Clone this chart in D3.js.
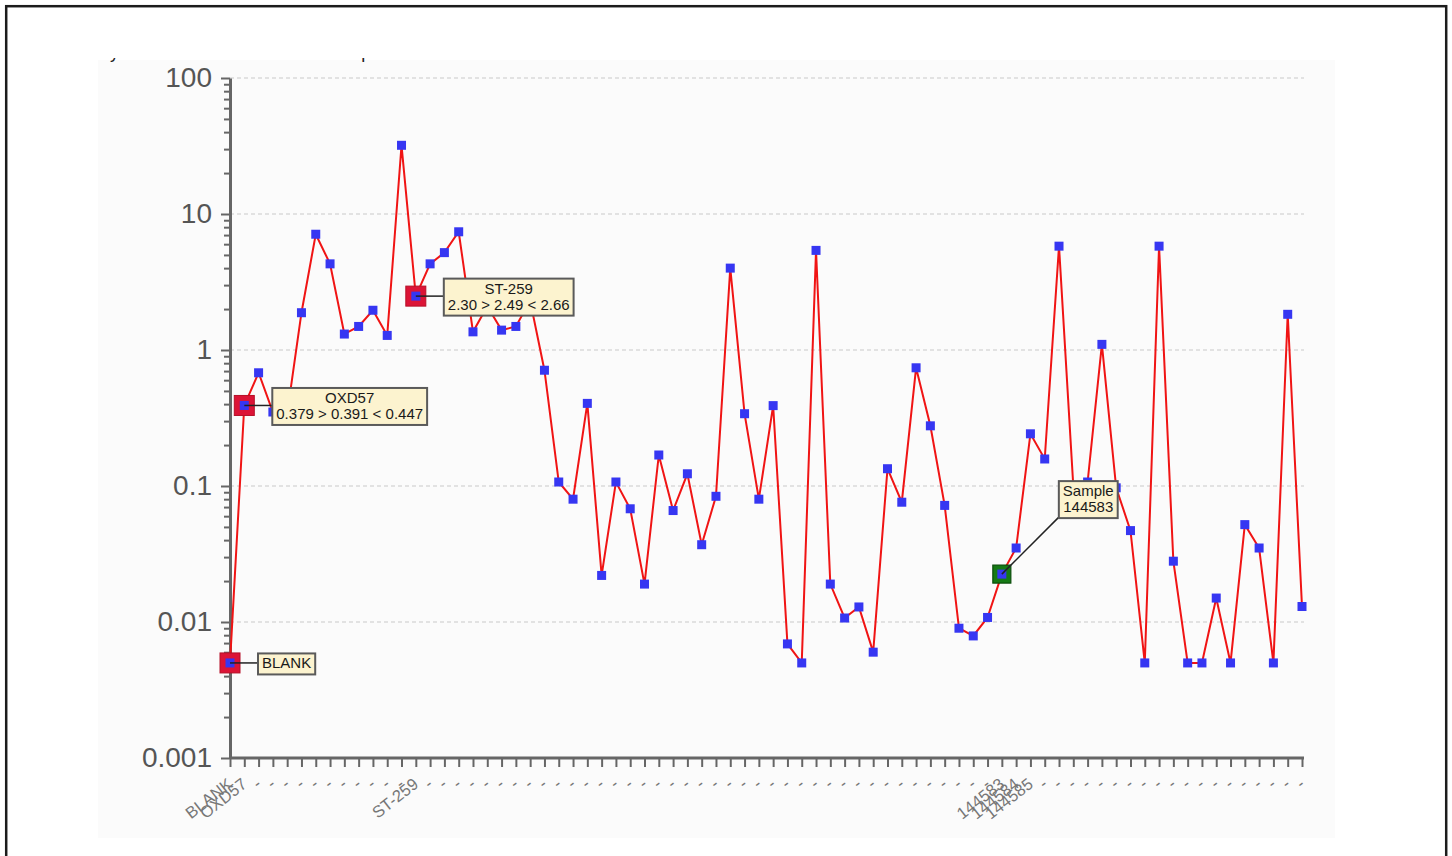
<!DOCTYPE html>
<html>
<head>
<meta charset="utf-8">
<script src="https://cdn.jsdelivr.net/npm/d3@7"></script>
<style>
  body { margin: 0; background: #fff; }
  svg { display: block; font-family: "Liberation Sans", Arial, sans-serif; }
</style>
</head>
<body>
<svg id="chart" width="1452" height="856"></svg>
<script>
// Sample identifiers along the x axis (unnamed runs are shown as "-")
const sampleIds = [
  "BLANK", "OXD57", "-", "-", "-", "-", "-", "-", "-", "-",
  "-", "-", "-", "ST-259", "-", "-", "-", "-", "-", "-",
  "-", "-", "-", "-", "-", "-", "-", "-", "-", "-",
  "-", "-", "-", "-", "-", "-", "-", "-", "-", "-",
  "-", "-", "-", "-", "-", "-", "-", "-", "-", "-",
  "-", "-", "-", "-", "144583", "144584", "144585", "-", "-", "-",
  "-", "-", "-", "-", "-", "-", "-", "-", "-", "-",
  "-", "-", "-", "-", "-", "-"
];

// Measured concentration per sample (log scale)
const concentrations = [
  0.005, 0.391, 0.68, 0.35, 0.34, 1.88, 7.1, 4.3, 1.31, 1.49,
  1.96, 1.28, 32.0, 2.49, 4.3, 5.2, 7.4, 1.36, 2.1, 1.40,
  1.49, 2.3, 0.71, 0.107, 0.080, 0.405, 0.022, 0.107, 0.068, 0.019,
  0.169, 0.066, 0.123, 0.037, 0.084, 4.0, 0.34, 0.080, 0.39, 0.0069,
  0.005, 5.4, 0.019, 0.0107, 0.0129, 0.006, 0.134, 0.076, 0.74, 0.277,
  0.072, 0.009, 0.0079, 0.0108, 0.0225, 0.035, 0.242, 0.158, 5.8, 0.10,
  0.107, 1.1, 0.097, 0.047, 0.005, 5.8, 0.028, 0.005, 0.005, 0.015,
  0.005, 0.052, 0.035, 0.005, 1.83, 0.013
];

// Y axis decades and their labels
const yTickValues = [100, 10, 1, 0.1, 0.01, 0.001];
const yTickLabels = ["100", "10", "1", "0.1", "0.01", "0.001"];

// Flagged control samples: index and annotation lines
const flaggedIndex = [0, 1, 13];
const flaggedLines = [
  ["BLANK"],
  ["OXD57", "0.379 > 0.391 < 0.447"],
  ["ST-259", "2.30 > 2.49 < 2.66"]
];

// Currently selected sample
const selectedIndex = 54;
const selectedLines = ["Sample", "144583"];

const titleText = "Assay Concentration Across All Samples";

const svg = d3.select("#chart");

// Outer frame
svg.append("rect")
  .attr("x", 6.2).attr("y", 6.2).attr("width", 1440).attr("height", 880)
  .attr("fill", "#fff").attr("stroke", "#1c1c1c").attr("stroke-width", 2.5);

// Chart background panel
svg.append("rect")
  .attr("x", 98).attr("y", 60).attr("width", 1237).attr("height", 778)
  .attr("fill", "#fbfbfb");

// Title (only its lower edge falls inside the panel viewport)
svg.append("clipPath").attr("id", "titleClip")
  .append("rect").attr("x", 98).attr("y", 58).attr("width", 1237).attr("height", 10);
svg.append("text")
  .attr("clip-path", "url(#titleClip)")
  .attr("x", 70).attr("y", 57.5)
  .attr("font-size", 18).attr("fill", "#222")
  .text(titleText);

const x = d3.scalePoint()
  .domain(d3.range(sampleIds.length))
  .range([230, 1302]);

const y = d3.scaleLog()
  .domain([0.001, 100])
  .range([758, 78]);

// Horizontal dashed gridlines at each decade
svg.append("g")
  .selectAll("line")
  .data(yTickValues.filter(v => v > 0.001))
  .join("line")
  .attr("x1", 230).attr("x2", 1304)
  .attr("y1", d => y(d)).attr("y2", d => y(d))
  .attr("stroke", "#c9c9c9").attr("stroke-width", 1)
  .attr("stroke-dasharray", "4,3");

// Minor ticks within each decade
const minorTicks = [];
for (let k = 0; k < yTickValues.length - 1; k++) {
  const base = yTickValues[k + 1];
  for (let m = 2; m <= 9; m++) minorTicks.push(base * m);
}
const yMinor = svg.append("g")
  .attr("transform", "translate(230,0)")
  .call(d3.axisLeft(y).tickValues(minorTicks).tickSize(6).tickFormat(""));
yMinor.select(".domain").remove();
yMinor.selectAll("line").attr("stroke", "#666").attr("stroke-width", 2);

// Major y axis
const yAxis = svg.append("g")
  .attr("transform", "translate(230,0)")
  .call(d3.axisLeft(y)
    .tickValues(yTickValues)
    .tickSize(9)
    .tickSizeOuter(0)
    .tickPadding(9)
    .tickFormat((d, i) => yTickLabels[i]));
yAxis.select(".domain").attr("stroke", "#666").attr("stroke-width", 3);
yAxis.selectAll(".tick line").attr("stroke", "#666").attr("stroke-width", 2);
yAxis.selectAll(".tick text")
  .attr("font-size", 28).attr("fill", "#555")
  .attr("font-family", "Liberation Sans, Arial, sans-serif");

// X axis with rotated sample labels
const xAxis = svg.append("g")
  .attr("transform", "translate(0,758)")
  .call(d3.axisBottom(x)
    .tickSize(9)
    .tickSizeOuter(0)
    .tickFormat(i => sampleIds[i]));
xAxis.select(".domain")
  .attr("d", "M230,0H1304")
  .attr("stroke", "#666").attr("stroke-width", 3);
xAxis.selectAll(".tick line").attr("stroke", "#666").attr("stroke-width", 2);
xAxis.selectAll(".tick text")
  .attr("x", 0).attr("y", 0).attr("dy", "0.32em")
  .attr("text-anchor", "end")
  .attr("transform", "translate(0,24) rotate(-38)")
  .attr("font-size", 16.5).attr("fill", "#777")
  .attr("font-family", "Liberation Sans, Arial, sans-serif");

// Concentration trace
const line = d3.line()
  .x((d, i) => x(i))
  .y(d => y(d));
svg.append("path")
  .datum(concentrations)
  .attr("d", line)
  .attr("fill", "none")
  .attr("stroke", "#f01414")
  .attr("stroke-width", 2);

// Highlight squares behind flagged and selected points
svg.append("g")
  .selectAll("rect")
  .data(flaggedIndex)
  .join("rect")
  .attr("x", i => x(i) - 10).attr("y", i => y(concentrations[i]) - 10)
  .attr("width", 20).attr("height", 20)
  .attr("fill", "#dc1436").attr("stroke", "#b51028").attr("stroke-width", 1);

svg.append("rect")
  .attr("x", x(selectedIndex) - 9).attr("y", y(concentrations[selectedIndex]) - 9)
  .attr("width", 18).attr("height", 18)
  .attr("fill", "#157a15").attr("stroke", "#0b4d0b").attr("stroke-width", 1.2);

// Point markers
svg.append("g")
  .selectAll("rect")
  .data(concentrations)
  .join("rect")
  .attr("x", (d, i) => x(i) - 4.5).attr("y", d => y(d) - 4.5)
  .attr("width", 9).attr("height", 9)
  .attr("fill", "#3636f2");

// Annotation callout box helper
function callout(px, py, lines, left, cy, leaderTo) {
  const g = svg.append("g");
  const leader = g.append("line")
    .attr("x1", px).attr("y1", py)
    .attr("stroke", "#222").attr("stroke-width", 1.5);
  const box = g.append("rect")
    .attr("fill", "#fcf3cf").attr("stroke", "#5a5a5a").attr("stroke-width", 2);
  const texts = lines.map(t => g.append("text")
    .attr("font-size", 15).attr("fill", "#1a1a1a")
    .attr("text-anchor", "middle").text(t));
  const w = d3.max(texts, t => t.node().getComputedTextLength()) + 8;
  const h = lines.length * 16 + 5;
  const top = cy - h / 2;
  box.attr("x", left).attr("y", top).attr("width", w).attr("height", h);
  texts.forEach((t, k) => t.attr("x", left + w / 2).attr("y", top + 15 + 16 * k));
  const end = leaderTo({ left, top, w, h });
  leader.attr("x2", end[0]).attr("y2", end[1]);
}

flaggedIndex.forEach((idx, k) => {
  const px = x(idx), py = y(concentrations[idx]);
  callout(px, py, flaggedLines[k], px + 28, py + 1, b => [b.left, py]);
});

{
  const px = x(selectedIndex), py = y(concentrations[selectedIndex]);
  callout(px, py, selectedLines, px + 57, py - 74.5, b => [b.left + 1, b.top + b.h - 2]);
}
</script>
</body>
</html>
